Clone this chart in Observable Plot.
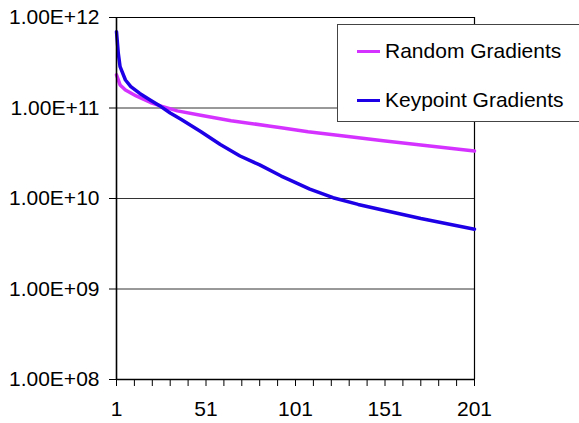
<!DOCTYPE html>
<html>
<head>
<meta charset="utf-8">
<script src="https://cdn.jsdelivr.net/npm/d3@7"></script>
<script src="https://cdn.jsdelivr.net/npm/@observablehq/plot@0.6"></script>
<style>
  html, body { margin: 0; padding: 0; background: #fff; }
  #wrap { position: relative; width: 579px; height: 423px; overflow: hidden; font-family: "Liberation Sans", Arial, sans-serif; }
  #legend { position: absolute; left: 337px; top: 24px; width: 250px; height: 98px; border: 1px solid #444; background: #fff; box-sizing: border-box; }
  .row { position: absolute; left: 0; height: 24px; display: flex; align-items: center; font-size: 21px; color: #000; }
  .sw { display: inline-block; width: 23px; height: 3px; margin-left: 19px; margin-right: 5px; }
</style>
</head>
<body>
<div id="wrap"></div>
<script>
const seriesNames = ["Random Gradients", "Keypoint Gradients"];
const seriesColors = ["#D433FF", "#1E00E6"];

const randomX = [1, 3, 6, 12, 20, 26, 35, 48, 65, 87, 93, 108, 128, 150, 171, 201];
const randomY = [2.32e11, 1.80e11, 1.58e11, 1.36e11, 1.15e11, 1.05e11, 9.3e10, 8.3e10, 7.24e10, 6.3e10, 6.06e10, 5.47e10, 4.91e10, 4.35e10, 3.9e10, 3.35e10];

const keypointX = [1, 2, 3, 6, 9, 14, 20, 26, 31, 37, 48, 59, 70, 81, 93, 98, 109, 122, 136, 149, 171, 201];
const keypointY = [6.97e11, 4.02e11, 2.86e11, 2.04e11, 1.72e11, 1.45e11, 1.22e11, 1.03e11, 8.8e10, 7.5e10, 5.5e10, 3.95e10, 2.95e10, 2.35e10, 1.77e10, 1.6e10, 1.27e10, 1.02e10, 8.6e9, 7.5e9, 6.0e9, 4.57e9];

const yTicks = [1e8, 1e9, 1e10, 1e11, 1e12];
const yTickLabels = ["1.00E+08", "1.00E+09", "1.00E+10", "1.00E+11", "1.00E+12"];
const xMinorTicks = d3.range(1, 202, 10);
const xTickLabels = [1, 51, 101, 151, 201];

const randomData = randomX.map((x, i) => ({x, y: randomY[i], s: seriesNames[0]}));
const keypointData = keypointX.map((x, i) => ({x, y: keypointY[i], s: seriesNames[1]}));

const chart = Plot.plot({
  width: 579,
  height: 423,
  marginLeft: 116,
  marginRight: 105,
  marginTop: 17,
  marginBottom: 44,
  style: { fontFamily: "Liberation Sans, Arial, sans-serif", fontSize: "21px", color: "#000", background: "#fff" },
  x: { type: "linear", domain: [1, 201] },
  y: { type: "log", domain: [1e8, 1e12] },
  marks: [
    Plot.ruleY(yTicks.slice(1, 4), { stroke: "#333", strokeWidth: 1 }),
    Plot.ruleY([1e12], { stroke: "#000", strokeWidth: 1 }),
    Plot.ruleX([201], { stroke: "#000", strokeWidth: 1.2 }),
    Plot.line(randomData, { x: "x", y: "y", stroke: seriesColors[0], strokeWidth: 3.5, strokeLinejoin: "round" }),
    Plot.line(keypointData, { x: "x", y: "y", stroke: seriesColors[1], strokeWidth: 3.5, strokeLinejoin: "round" }),
    Plot.ruleX([1], { stroke: "#000", strokeWidth: 1.6 }),
    Plot.ruleY([1e8], { stroke: "#000", strokeWidth: 1.4 }),
    Plot.axisY({ ticks: yTicks, tickFormat: (d) => yTickLabels[yTicks.indexOf(d)], tickSize: 7, tickPadding: 10, label: null, stroke: "#000", fontSize: 21 }),
    Plot.axisX({ ticks: xMinorTicks, tickFormat: () => "", tickSize: 7, label: null, stroke: "#000" }),
    Plot.axisX({ ticks: xTickLabels, tickFormat: d => String(d), tickSize: 0, tickPadding: 22, label: null, fontSize: 21 })
  ]
});

const wrap = document.getElementById("wrap");
wrap.appendChild(chart);

const legend = document.createElement("div");
legend.id = "legend";
[[50, 0], [99, 1]].forEach(([cy, k]) => {
  const row = document.createElement("div");
  row.className = "row";
  row.style.top = (cy - 24 - 12) + "px";
  const sw = document.createElement("span");
  sw.className = "sw";
  sw.style.background = seriesColors[k];
  const t = document.createElement("span");
  t.textContent = seriesNames[k];
  row.appendChild(sw);
  row.appendChild(t);
  legend.appendChild(row);
});
wrap.appendChild(legend);
</script>
</body>
</html>
